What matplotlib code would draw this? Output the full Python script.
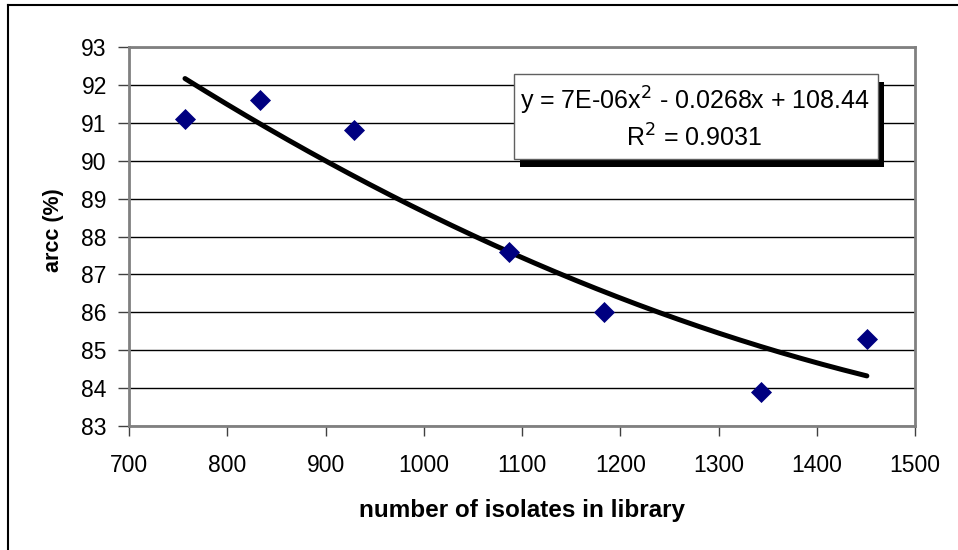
import numpy as np
import matplotlib
matplotlib.use("Agg")
import matplotlib.pyplot as plt
from matplotlib.patches import Rectangle
from matplotlib.lines import Line2D

plt.rcParams['font.family'] = ['Liberation Sans', 'DejaVu Sans']

# data
isolates = [757, 833, 929, 1087, 1183, 1343, 1451]
accuracy = [91.1, 91.6, 90.8, 87.6, 86.0, 83.9, 85.3]
x_ticks = [700, 800, 900, 1000, 1100, 1200, 1300, 1400, 1500]
y_ticks = [83, 84, 85, 86, 87, 88, 89, 90, 91, 92, 93]
eq_line1 = "y = 7E-06x$^2$ - 0.0268x + 108.44"
eq_line2 = "R$^2$ = 0.9031"
x_label = "number of isolates in library"
y_label = "arcc (%)"

W, H = 958, 550
fig = plt.figure(figsize=(W / 100, H / 100), dpi=100)
fig.patch.set_facecolor('white')

def fx(px):
    return px / W

def fy(py):
    return 1 - py / H

ax = fig.add_axes([fx(129), fy(426), fx(915) - fx(129), fy(47) - fy(426)])

# trendline (2nd-order polynomial fit, as in the source)
coef = np.polyfit(isolates, accuracy, 2)
xs = np.linspace(min(isolates), max(isolates), 200)
ax.plot(xs, np.polyval(coef, xs), color='black', lw=3.6, solid_capstyle='round', zorder=3)

ax.scatter(isolates, accuracy, marker='D', s=115, color='#000080', zorder=4, linewidths=0)

ax.set_xlim(700, 1500)
ax.set_ylim(83, 93)
ax.set_xticks(x_ticks)
ax.set_yticks(y_ticks)
ax.yaxis.grid(True, color='black', lw=1.0)
ax.set_axisbelow(True)

for s in ax.spines.values():
    s.set_color('#808080')
    s.set_linewidth(2)

ax.tick_params(axis='both', direction='out', colors='#404040', labelcolor='black',
               labelsize=16.5)
ax.tick_params(axis='y', length=8, width=1, pad=8)
ax.tick_params(axis='x', length=7, width=1, pad=13)

ax.set_xlabel(x_label, fontsize=17.5, fontweight='bold')
ax.xaxis.label.set_va('center')
ax.xaxis.set_label_coords(0.5, (426 - 510) / 379)
ax.set_ylabel(y_label, fontsize=15.5, fontweight='bold')
ax.yaxis.label.set_va('center')
ax.yaxis.label.set_ha('center')
ax.yaxis.set_label_coords((53 - 129) / 786, (426 - 230) / 379)

# equation box with shadow
bx0, bx1, by0, by1 = 514, 878, 74, 159
fig.patches.append(Rectangle((fx(bx0 + 6), fy(by1 + 8)), fx(bx1 - bx0), fy(by0) - fy(by1),
                             transform=fig.transFigure, facecolor='black', edgecolor='none', zorder=5))
fig.patches.append(Rectangle((fx(bx0), fy(by1)), fx(bx1 - bx0), fy(by0) - fy(by1),
                             transform=fig.transFigure, facecolor='white', edgecolor='#606060',
                             lw=1, zorder=6))
fig.text(fx(695), fy(101), eq_line1, ha='center', va='center', fontsize=18, zorder=7)
fig.text(fx(694), fy(138), eq_line2, ha='center', va='center', fontsize=18, zorder=7)

# outer chart frame (top and left edges visible)
fig.lines.append(Line2D([fx(8), 1], [fy(4.5), fy(4.5)], transform=fig.transFigure, color='black', lw=1.5))
fig.lines.append(Line2D([fx(8), fx(8)], [fy(4.5), 0], transform=fig.transFigure, color='black', lw=1.5))

fig.savefig('out.png', dpi=100)
